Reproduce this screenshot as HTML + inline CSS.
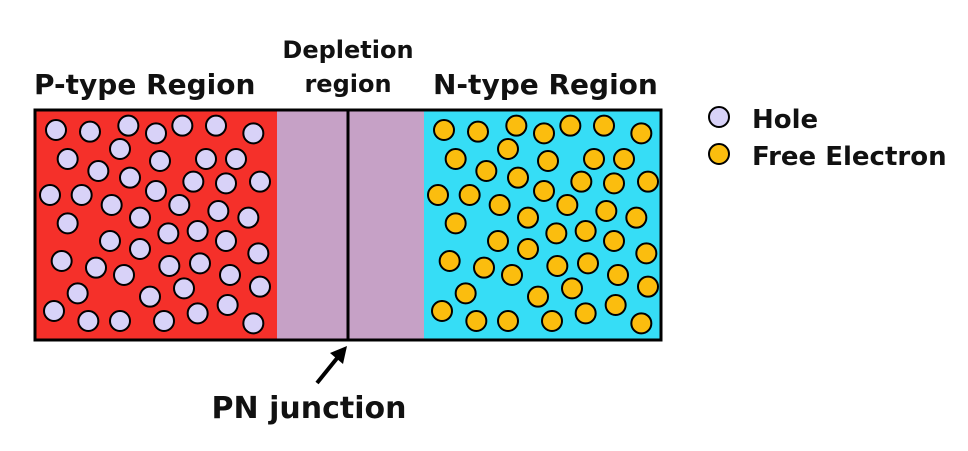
<!DOCTYPE html>
<html><head><meta charset="utf-8"><style>
html,body{margin:0;padding:0;background:#fff;width:968px;height:451px;overflow:hidden}
svg{display:block}
text{font-family:"DejaVu Sans","Liberation Sans",sans-serif;font-weight:bold;fill:#111}
</style></head><body>
<svg id="s" width="968" height="451" viewBox="0 0 968 451" xmlns="http://www.w3.org/2000/svg">
<rect x="34" y="109" width="243" height="232" fill="#f5302a"/>
<rect x="277" y="109" width="147" height="232" fill="#c6a1c6"/>
<rect x="424" y="109" width="238" height="232" fill="#36ddf6"/>
<line x1="348" y1="109" x2="348" y2="341" stroke="#000" stroke-width="3"/>
<g id="p"></g><g id="n"></g>
<rect x="35" y="110" width="626" height="230" fill="none" stroke="#000" stroke-width="3"/>
<text x="34" y="94" font-size="28">P-type Region</text>
<text x="348" y="58" font-size="24" text-anchor="middle">Depletion</text>
<text x="348" y="92" font-size="24" text-anchor="middle">region</text>
<text x="433" y="94" font-size="28">N-type Region</text>
<circle cx="719" cy="117" r="10" fill="#d8d2f8" stroke="#000" stroke-width="2"/>
<circle cx="719" cy="154" r="10" fill="#fbbd0e" stroke="#000" stroke-width="2"/>
<text x="752" y="128" font-size="26">Hole</text>
<text x="752" y="165" font-size="26">Free Electron</text>
<line x1="317" y1="383" x2="338" y2="357" stroke="#000" stroke-width="4"/>
<polygon points="347,346 343,364 330,353" fill="#000"/>
<text x="309" y="418" font-size="30" text-anchor="middle">PN junction</text>
</svg>
<script>
var pts=[[78,75],[180,80],[295,62],[378,85],[457,62],[558,62],[670,85],[113,162],[270,132],[390,168],[528,162],[618,162],[205,198],[300,218],[490,230],[588,235],[690,230],[60,270],[155,270],[378,258],[245,300],[448,300],[565,318],[655,338],[113,355],[330,338],[415,385],[503,378],[588,408],[240,408],[330,432],[685,445],[95,468],[198,488],[282,510],[418,483],[510,475],[600,510],[690,545],[143,565],[360,575],[462,550],[72,618],[175,648],[270,648],[402,648],[503,625],[593,600],[670,655]];
function draw(id,ox,fill){var g=document.getElementById(id),h='';pts.forEach(function(p){h+='<circle cx="'+(ox+p[0]/3)+'" cy="'+(105+p[1]/3)+'" r="10" fill="'+fill+'" stroke="#000" stroke-width="2"/>';});g.innerHTML=h;}
draw('p',30,'#d8d2f8');
draw('n',418,'#fbbd0e');
</script>
</body></html>
